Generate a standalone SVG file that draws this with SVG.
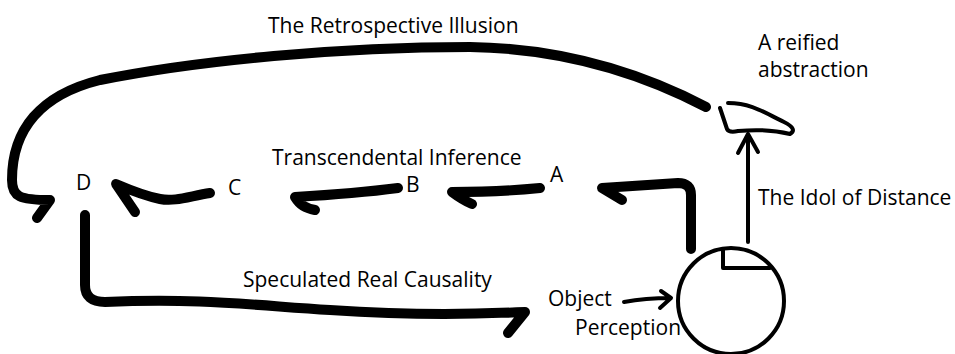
<svg xmlns="http://www.w3.org/2000/svg" width="955" height="354" viewBox="0 0 955 354">
  <style>
    text { font-family: "Open Sans", "Noto Sans", "Liberation Sans", sans-serif; font-size: 21px; fill: #000; }
    .thick { fill: none; stroke: #000; stroke-width: 10; stroke-linecap: round; stroke-linejoin: round; }
    .thin { fill: none; stroke: #000; stroke-width: 4; stroke-linecap: round; stroke-linejoin: round; }
  </style>
  <rect width="955" height="354" fill="#fff"/>

  <g id="connectors">
    <!-- The Retrospective Illusion: from the reified abstraction back round to D -->
    <path class="thick" d="M706,107 C620,62 540,48 470,47 C340,47 200,60 100,80 C40,95 12,130 12,180 C12,197 20,200 50,200 L37,218"/>
    <!-- C to D -->
    <path class="thick" d="M210,193 C190,196 175,202 160,199 C145,196 130,190 116,184 L135,212"/>
    <!-- B to C -->
    <path class="thick" d="M398,188 C360,193 330,195 295,197 C300,205 305,208 315,210"/>
    <!-- A to B -->
    <path class="thick" d="M540,188 C510,191 480,192 452,192 C460,198 465,201 472,204"/>
    <!-- perception up and over to A -->
    <path class="thick" d="M691,249 L691,195 Q691,183 678,183 L602,188 L622,200"/>
    <!-- Speculated Real Causality: D down and round to the object -->
    <path class="thick" d="M85,215 L85,285 Q85,302 105,302 C200,298 250,305 330,310 C420,316 480,314 525,312 L508,333"/>
    <!-- The Idol of Distance -->
    <path class="thin" d="M748,242 L748,134 M738,153 L748,134 L758,152"/>
    <!-- Object into perception -->
    <path class="thin" stroke-width="5" d="M624,302 C640,299 655,298 671,298 M661,291 L671,298 L660,308"/>
  </g>

  <g id="perception">
    <circle cx="731" cy="301" r="53" fill="none" stroke="#000" stroke-width="4"/>
    <path class="thin" d="M723,250 L723,268 L770,268" stroke-linecap="butt"/>
  </g>

  <g id="reified-abstraction">
    <path class="thin" d="M720,108 L727,129 Q729,133 738,131 C760,129 778,131 790,134 C795,131 794,127 784,122 C765,113 752,103 728,103"/>
    <text x="758" y="50">A reified</text>
    <text x="758" y="77">abstraction</text>
  </g>

  <g id="node-a"><text x="550" y="182">A</text></g>
  <g id="node-b"><text x="406" y="192">B</text></g>
  <g id="node-c"><text x="228" y="195">C</text></g>
  <g id="node-d"><text x="76" y="190">D</text></g>
  <g id="object"><text x="548" y="306">Object</text><text x="575" y="335">Perception</text></g>

  <g id="labels">
    <text x="268" y="33">The Retrospective Illusion</text>
    <text x="272" y="165">Transcendental Inference</text>
    <text x="243" y="287">Speculated Real Causality</text>
    <text x="758" y="205">The Idol of Distance</text>
  </g>
</svg>
